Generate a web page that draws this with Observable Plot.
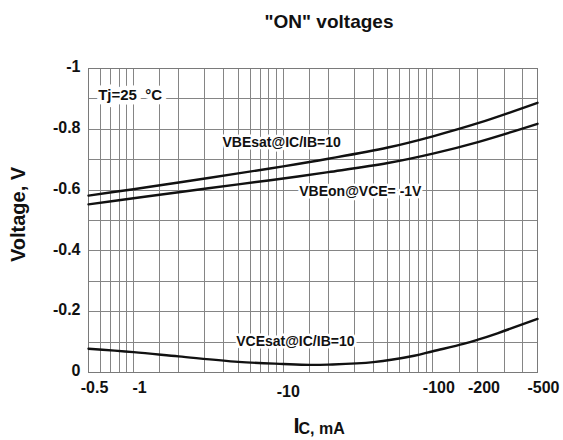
<!DOCTYPE html>
<html>
<head>
<meta charset="utf-8">
<script src="https://cdn.jsdelivr.net/npm/d3@7"></script>
<script src="https://cdn.jsdelivr.net/npm/@observablehq/plot@0.6"></script>
<style>
  html, body { margin: 0; padding: 0; background: #fff; }
  #chart svg { display: block; }
</style>
</head>
<body>
<div id="chart"></div>
<script>
// ---- data (collector current in mA, voltages in V) ----
const icBE = [-0.5, -1, -2, -5, -10, -20, -50, -100, -200, -500];
const vbeSat = [-0.582, -0.603, -0.625, -0.655, -0.678, -0.703, -0.740, -0.777, -0.820, -0.887];
const vbeOn = [-0.553, -0.573, -0.593, -0.619, -0.638, -0.659, -0.689, -0.720, -0.758, -0.818];

const icCE = [-0.5, -1, -2, -5, -10, -15, -20, -40, -75, -100, -160, -200, -270, -500];
const vceSat = [-0.078, -0.067, -0.053, -0.035, -0.028, -0.025, -0.026, -0.034, -0.055, -0.070, -0.094, -0.108, -0.129, -0.176];

const xGrid = [-0.5, -0.6, -0.7, -0.8, -0.9, -1, -1.5, -2, -3, -4, -5, -6, -7, -8, -9, -10,
               -15, -20, -30, -40, -50, -60, -70, -80, -90, -100, -150, -200, -300, -400, -500];
const yGrid = [0, -0.1, -0.2, -0.3, -0.4, -0.5, -0.6, -0.7, -0.8, -0.9, -1];

const xTicks = [-0.5, -1, -100, -200, -500];
const xTickLabels = ["-0.5", "-1", "-100", "-200", "-500"];
const xTicksLow = [-10];
const xTickLabelsLow = ["-10"];
const yTicks = [0, -0.2, -0.4, -0.6, -0.8, -1];
const yTickLabels = ["0", "-0.2", "-0.4", "-0.6", "-0.8", "-1"];

const seriesNames = ["VBEsat@IC/IB=10", "VBEon@VCE= -1V", "VCEsat@IC/IB=10"];
const labelIc = [-3.93, -12.8, -4.85];
const labelV = [-0.758, -0.594, -0.102];
const noteText = ["Tj=25\u00a0 \u00b0C"];
const noteIc = [-0.58];
const noteV = [-0.913];

const title = "\"ON\" voltages";
const yTitle = "Voltage, V";

// ---- tables built from arrays ----
const rows = [];
icBE.forEach((c, i) => rows.push({series: seriesNames[0], ic: c, v: vbeSat[i]}));
icBE.forEach((c, i) => rows.push({series: seriesNames[1], ic: c, v: vbeOn[i]}));
icCE.forEach((c, i) => rows.push({series: seriesNames[2], ic: c, v: vceSat[i]}));
const labels = seriesNames.map((s, i) => ({text: s, ic: labelIc[i], v: labelV[i]}));
const notes = noteText.map((s, i) => ({text: s, ic: noteIc[i], v: noteV[i]}));

const FONT = "'Liberation Sans', Arial, Helvetica, sans-serif";
const GRID = "#858585";

const chart = Plot.plot({
  width: 563,
  height: 440,
  marginTop: 68,
  marginBottom: 68,
  marginLeft: 88,
  marginRight: 26,
  style: {fontFamily: FONT, fontWeight: "bold", background: "#fff", color: "#111"},
  x: {type: "log", domain: [-0.5, -500], axis: null},
  y: {domain: [0, -1], axis: null},
  marks: [
    Plot.ruleX(xGrid, {stroke: GRID, strokeWidth: 1, shapeRendering: "crispEdges"}),
    Plot.ruleY(yGrid, {stroke: GRID, strokeWidth: 1, shapeRendering: "crispEdges"}),
    Plot.frame({stroke: "#7a7a7a", strokeWidth: 1, shapeRendering: "crispEdges"}),
    // in-plot labels with white backing
    Plot.text(notes, {x: "ic", y: "v", text: "text", textAnchor: "start", fontSize: 15,
      fill: "#111", stroke: "white", strokeWidth: 9, paintOrder: "stroke"}),
    Plot.text(labels, {x: "ic", y: "v", text: "text", textAnchor: "start", fontSize: 14,
      fill: "#111", stroke: "white", strokeWidth: 5, paintOrder: "stroke"}),
    // curves
    Plot.line(rows, {x: "ic", y: "v", z: "series", stroke: "#111", strokeWidth: 2.4, curve: "catmull-rom"}),
    // tick labels
    Plot.text(xTicks, {x: d => d, text: (d, i) => xTickLabels[i], frameAnchor: "bottom",
      dy: 15, dx: 6, lineAnchor: "middle", fontSize: 16, fill: "#111"}),
    Plot.text(xTicksLow, {x: d => d, text: (d, i) => xTickLabelsLow[i], frameAnchor: "bottom",
      dy: 19, dx: 5, lineAnchor: "middle", fontSize: 16, fill: "#111"}),
    Plot.text(yTicks, {y: d => d, text: (d, i) => yTickLabels[i], frameAnchor: "left",
      dx: -8, dy: -1.5, textAnchor: "end", lineAnchor: "middle", fontSize: 16, fill: "#111"}),
    // titles
    Plot.text([title], {frameAnchor: "top", dx: 16, dy: -47, lineAnchor: "middle",
      fontSize: 19, fill: "#111"}),
    Plot.text([yTitle], {frameAnchor: "left", dx: -70, dy: -6, rotate: -90, lineAnchor: "middle",
      textAnchor: "middle", fontSize: 20, fill: "#111"}),
    Plot.text(["I"], {frameAnchor: "bottom-left", dx: 205, dy: 53.5, textAnchor: "start",
      lineAnchor: "middle", fontSize: 22, fill: "#111"}),
    Plot.text(["C, mA"], {frameAnchor: "bottom-left", dx: 210, dy: 56, textAnchor: "start",
      lineAnchor: "middle", fontSize: 16, fill: "#111"})
  ]
});
document.getElementById("chart").appendChild(chart);
</script>
</body>
</html>
